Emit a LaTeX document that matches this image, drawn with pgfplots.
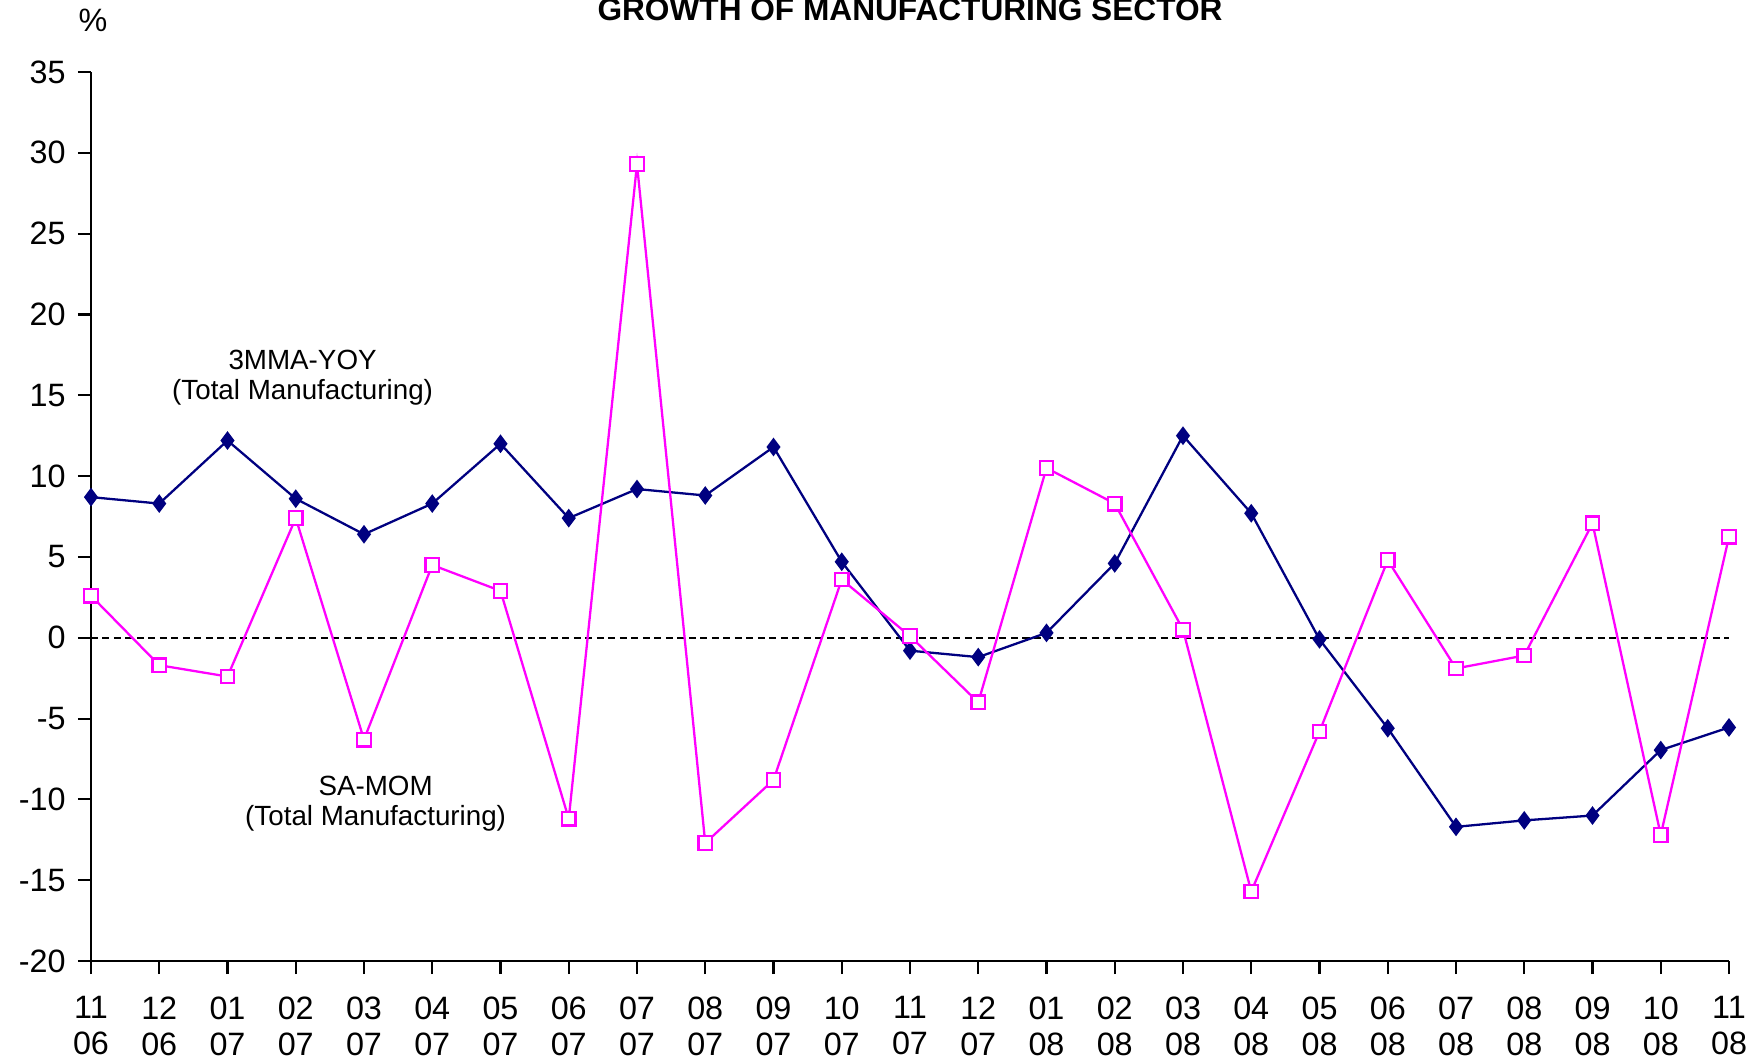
\documentclass[border=0pt]{standalone}
\usepackage{pgfplots}
\pgfplotsset{compat=1.18}
\usepackage{fontspec}
\setmainfont{Liberation Sans}
\definecolor{navyc}{RGB}{0,0,128}
\definecolor{magc}{RGB}{255,0,255}
\begin{document}
\begin{tikzpicture}
\begin{axis}[
  name=ax,
  scale only axis,
  width=163.8mm, height=88.9mm,
  xmin=0, xmax=24, ymin=-20, ymax=35,
  axis lines*=left,
  axis line style={line width=0.6pt},
  ytick={-20,-15,...,35},
  xtick={0,...,24},
  xticklabels={{11\\06},{12\\06},{01\\07},{02\\07},{03\\07},{04\\07},{05\\07},{06\\07},{07\\07},{08\\07},{09\\07},{10\\07},{11\\07},{12\\07},{01\\08},{02\\08},{03\\08},{04\\08},{05\\08},{06\\08},{07\\08},{08\\08},{09\\08},{10\\08},{11\\08}},
  tick align=outside,
  major tick length=1.3mm,
  tick style={black, line width=0.6pt},
  /pgf/number format/assume math mode=true,
  ticklabel style={font=\fontsize{9.2}{10.3}\selectfont},
  xticklabel style={align=center, anchor=north, yshift=-1.0mm},
  yticklabel style={anchor=east, xshift=0mm},
  clip=false,
]
\addplot[black, line width=0.5pt, dash pattern=on 0.7mm off 0.45mm, forget plot] coordinates {(0,0) (24,0)};
\addplot[navyc, line width=0.65pt, mark=diamond*, mark size=0.75mm, mark options={fill=navyc, solid}] coordinates {
(0,8.7) (1,8.3) (2,12.2) (3,8.6) (4,6.4) (5,8.3) (6,12.0) (7,7.4) (8,9.2) (9,8.8) (10,11.8) (11,4.7) (12,-0.8) (13,-1.2) (14,0.3) (15,4.6) (16,12.5) (17,7.7) (18,-0.1) (19,-5.6) (20,-11.7) (21,-11.3) (22,-11.0) (23,-6.95) (24,-5.55)};
\addplot[magc, line width=0.65pt, mark=square*, mark size=0.68mm, mark options={fill=white, solid}] coordinates {
(0,2.6) (1,-1.7) (2,-2.4) (3,7.4) (4,-6.3) (5,4.5) (6,2.9) (7,-11.2) (8,29.3) (9,-12.7) (10,-8.8) (11,3.6) (12,0.1) (13,-4.0) (14,10.5) (15,8.3) (16,0.5) (17,-15.7) (18,-5.8) (19,4.8) (20,-1.9) (21,-1.1) (22,7.08) (23,-12.2) (24,6.25)};
\node[align=center, font=\fontsize{7.9}{8.6}\selectfont] at (axis cs:3.1,16.1) {3MMA-YOY\\(Total Manufacturing)};
\node[align=center, font=\fontsize{7.9}{8.6}\selectfont] at (axis cs:4.17,-10.25) {SA-MOM\\(Total Manufacturing)};
\node[anchor=base, font=\fontsize{9.2}{10.3}\selectfont] at ([xshift=0.2mm,yshift=4.05mm]rel axis cs:0,1) {\%};
\node[anchor=base, font=\bfseries\fontsize{9}{10}\selectfont] at ([yshift=5.2mm]rel axis cs:0.5,1) {GROWTH OF MANUFACTURING SECTOR};
\end{axis}
\pgfresetboundingbox
\useasboundingbox (ax.south west) ++(-9.1mm,-10mm) rectangle ++(176.3mm,106.1mm);
\end{tikzpicture}
\end{document}
